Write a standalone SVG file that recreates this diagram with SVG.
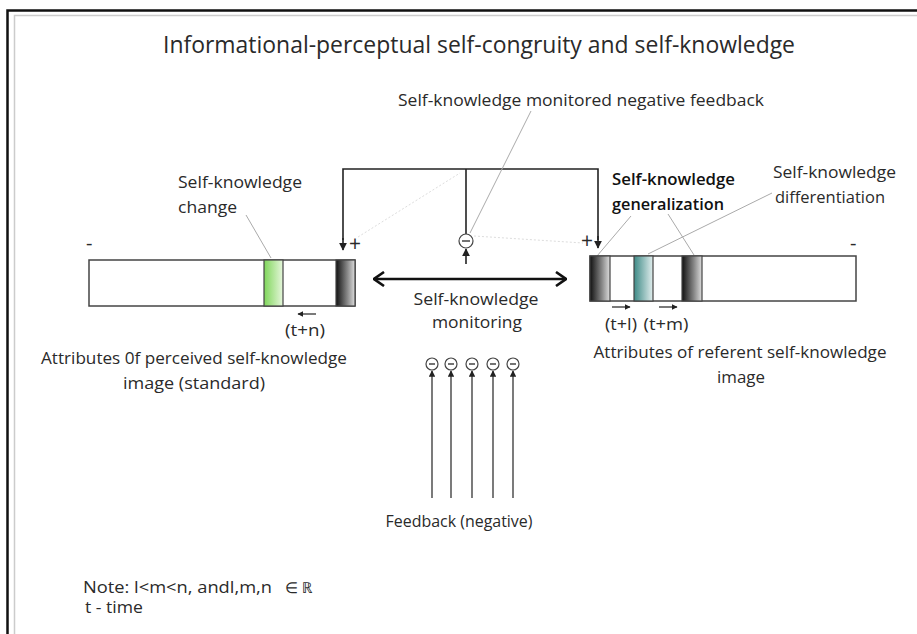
<svg xmlns="http://www.w3.org/2000/svg" width="917" height="634" viewBox="0 0 917 634">
<defs>
<style>
text{font-family:"Open Sans","Noto Sans","Liberation Sans",sans-serif;fill:#2a2a2a;font-size:17px}
.c{text-anchor:middle}
.ln{stroke:#222;stroke-width:1.6;fill:none}
.lead{stroke:#aaa;stroke-width:1;fill:none}
.faint{stroke:#ddd;stroke-width:1;fill:none;stroke-dasharray:2 2}
.bar{fill:#fff;stroke:#444;stroke-width:1.5}
.neg{fill:#fff;stroke:#444;stroke-width:1.2}
.fb{stroke:#333;stroke-width:1.3;fill:none}
</style>
<linearGradient id="gDark" x1="0" x2="1" y1="0" y2="0"><stop offset="0" stop-color="#111"/><stop offset="0.6" stop-color="#888"/><stop offset="1" stop-color="#ddd"/></linearGradient>
<linearGradient id="gGreen" x1="0" x2="1" y1="0" y2="0"><stop offset="0" stop-color="#7fd65a"/><stop offset="1" stop-color="#e6f6dc"/></linearGradient>
<linearGradient id="gTeal" x1="0" x2="1" y1="0" y2="0"><stop offset="0" stop-color="#3d8a86"/><stop offset="1" stop-color="#e2eeee"/></linearGradient>
<marker id="ahb" viewBox="0 0 10 10" refX="9" refY="5" markerWidth="5" markerHeight="5" orient="auto-start-reverse"><path d="M0,0 L10,5 L0,10 Z" fill="#222"/></marker>
<marker id="chev" viewBox="0 0 12 16" refX="11" refY="8" markerWidth="12" markerHeight="16" markerUnits="userSpaceOnUse" orient="auto-start-reverse"><path d="M1,1 L11,8 L1,15" fill="none" stroke="#111" stroke-width="2.6"/></marker>
</defs>
<rect width="917" height="634" fill="#fff"/>
<path d="M7.5,634 V10.5 H917" fill="none" stroke="#111" stroke-width="2.5"/>
<path d="M14.5,634 V15.5 H917" fill="none" stroke="#ccc" stroke-width="1.5"/>

<text id="title" x="479" y="53" class="c" style="font-size:24px" textLength="632" lengthAdjust="spacingAndGlyphs">Informational-perceptual self-congruity and self-knowledge</text>

<g id="connectors">
<path class="ln" d="M343,240 V169 H598 V240"/>
<path class="ln" d="M343,238 L343,250" marker-end="url(#ahb)"/>
<path class="ln" d="M598,236 L598,248" marker-end="url(#ahb)"/>
<path class="ln" d="M466,169 V234"/>
<path class="ln" d="M466,264 V249" marker-end="url(#ahb)"/>
<path class="ln" d="M374,279 H566" style="stroke-width:2.6;stroke:#111" marker-start="url(#chev)" marker-end="url(#chev)"/>
<path class="faint" d="M358,237 L460,173"/>
<path class="faint" d="M474,236 L583,243"/>
<path class="lead" d="M470,233 L531,111"/>
<path class="lead" d="M246,215 L271,258"/>
<path class="lead" d="M631,216 L597,256"/>
<path class="lead" d="M668,214 L694,255"/>
<path class="lead" d="M772,193 L648,254"/>
<path class="fb" d="M432,498 V371" marker-end="url(#ahb)"/>
<path class="fb" d="M451,498 V371" marker-end="url(#ahb)"/>
<path class="fb" d="M472,498 V371" marker-end="url(#ahb)"/>
<path class="fb" d="M493,498 V371" marker-end="url(#ahb)"/>
<path class="fb" d="M513,498 V371" marker-end="url(#ahb)"/>
<path class="ln" d="M316,314 H298" style="stroke-width:1.2" marker-end="url(#ahb)"/>
<path class="ln" d="M612,307 H630" style="stroke-width:1.2" marker-end="url(#ahb)"/>
<path class="ln" d="M659,307 H677" style="stroke-width:1.2" marker-end="url(#ahb)"/>
</g>

<g id="monitored-node">
<circle class="neg" cx="466" cy="241" r="7"/>
<path d="M462,241 H470" stroke="#444" stroke-width="1.5"/>
</g>

<g id="feedback-nodes">
<circle class="neg" cx="432" cy="364" r="6"/><path d="M429,364 H435" stroke="#444" stroke-width="1.5"/>
<circle class="neg" cx="451" cy="364" r="6"/><path d="M448,364 H454" stroke="#444" stroke-width="1.5"/>
<circle class="neg" cx="472" cy="364" r="6"/><path d="M469,364 H475" stroke="#444" stroke-width="1.5"/>
<circle class="neg" cx="493" cy="364" r="6"/><path d="M490,364 H496" stroke="#444" stroke-width="1.5"/>
<circle class="neg" cx="513" cy="364" r="6"/><path d="M510,364 H516" stroke="#444" stroke-width="1.5"/>
</g>

<g id="left-bar">
<rect class="bar" x="89" y="260" width="266" height="46"/>
<rect x="264" y="260" width="19" height="46" fill="url(#gGreen)" stroke="#444" stroke-width="1.2"/>
<rect x="336" y="260" width="19" height="46" fill="url(#gDark)" stroke="#444" stroke-width="1.2"/>
<text x="86" y="250" style="font-size:20px">-</text>
<text x="349" y="251" style="font-size:21px">+</text>
<text x="178" y="188" textLength="124" lengthAdjust="spacingAndGlyphs">Self-knowledge</text>
<text x="178" y="213" textLength="59" lengthAdjust="spacingAndGlyphs">change</text>
<text x="305" y="336" class="c" textLength="40" lengthAdjust="spacingAndGlyphs">(t+n)</text>
<text x="194" y="364" class="c" textLength="306" lengthAdjust="spacingAndGlyphs">Attributes 0f perceived self-knowledge</text>
<text x="194" y="389" class="c" textLength="142" lengthAdjust="spacingAndGlyphs">image (standard)</text>
</g>

<g id="right-bar">
<rect class="bar" x="590" y="256" width="266" height="45"/>
<rect x="590" y="256" width="20" height="45" fill="url(#gDark)" stroke="#444" stroke-width="1.2"/>
<rect x="634" y="256" width="19" height="45" fill="url(#gTeal)" stroke="#444" stroke-width="1.2"/>
<rect x="682" y="256" width="20" height="45" fill="url(#gDark)" stroke="#444" stroke-width="1.2"/>
<text x="850" y="250" style="font-size:20px">-</text>
<text x="581" y="248" style="font-size:21px">+</text>
<text x="612" y="185" style="font-weight:600;fill:#111" textLength="123" lengthAdjust="spacingAndGlyphs">Self-knowledge</text>
<text x="612" y="210" style="font-weight:600;fill:#111" textLength="112" lengthAdjust="spacingAndGlyphs">generalization</text>
<text x="773" y="178" textLength="123" lengthAdjust="spacingAndGlyphs">Self-knowledge</text>
<text x="775" y="203" textLength="110" lengthAdjust="spacingAndGlyphs">differentiation</text>
<text x="621" y="330" class="c" textLength="32" lengthAdjust="spacingAndGlyphs">(t+l)</text>
<text x="666" y="330" class="c" textLength="45" lengthAdjust="spacingAndGlyphs">(t+m)</text>
<text x="740" y="358" class="c" textLength="293" lengthAdjust="spacingAndGlyphs">Attributes of referent self-knowledge</text>
<text x="741" y="383" class="c" textLength="48" lengthAdjust="spacingAndGlyphs">image</text>
</g>

<g id="monitoring-label">
<text x="581" y="106" class="c" textLength="366" lengthAdjust="spacingAndGlyphs">Self-knowledge monitored negative feedback</text>
<text x="476" y="305" class="c" textLength="125" lengthAdjust="spacingAndGlyphs">Self-knowledge</text>
<text x="477" y="328" class="c" textLength="90" lengthAdjust="spacingAndGlyphs">monitoring</text>
</g>

<g id="feedback-label">
<text x="459" y="527" class="c" textLength="147" lengthAdjust="spacingAndGlyphs">Feedback (negative)</text>
</g>

<g id="note">
<text x="83" y="593" style="font-size:15.5px" textLength="189" lengthAdjust="spacingAndGlyphs">Note: l&lt;m&lt;n, andl,m,n</text>
<text x="285" y="593" style="font-size:15px">∈ ℝ</text>
<text x="85" y="613" style="font-size:15.5px" textLength="58" lengthAdjust="spacingAndGlyphs">t - time</text>
</g>
</svg>
